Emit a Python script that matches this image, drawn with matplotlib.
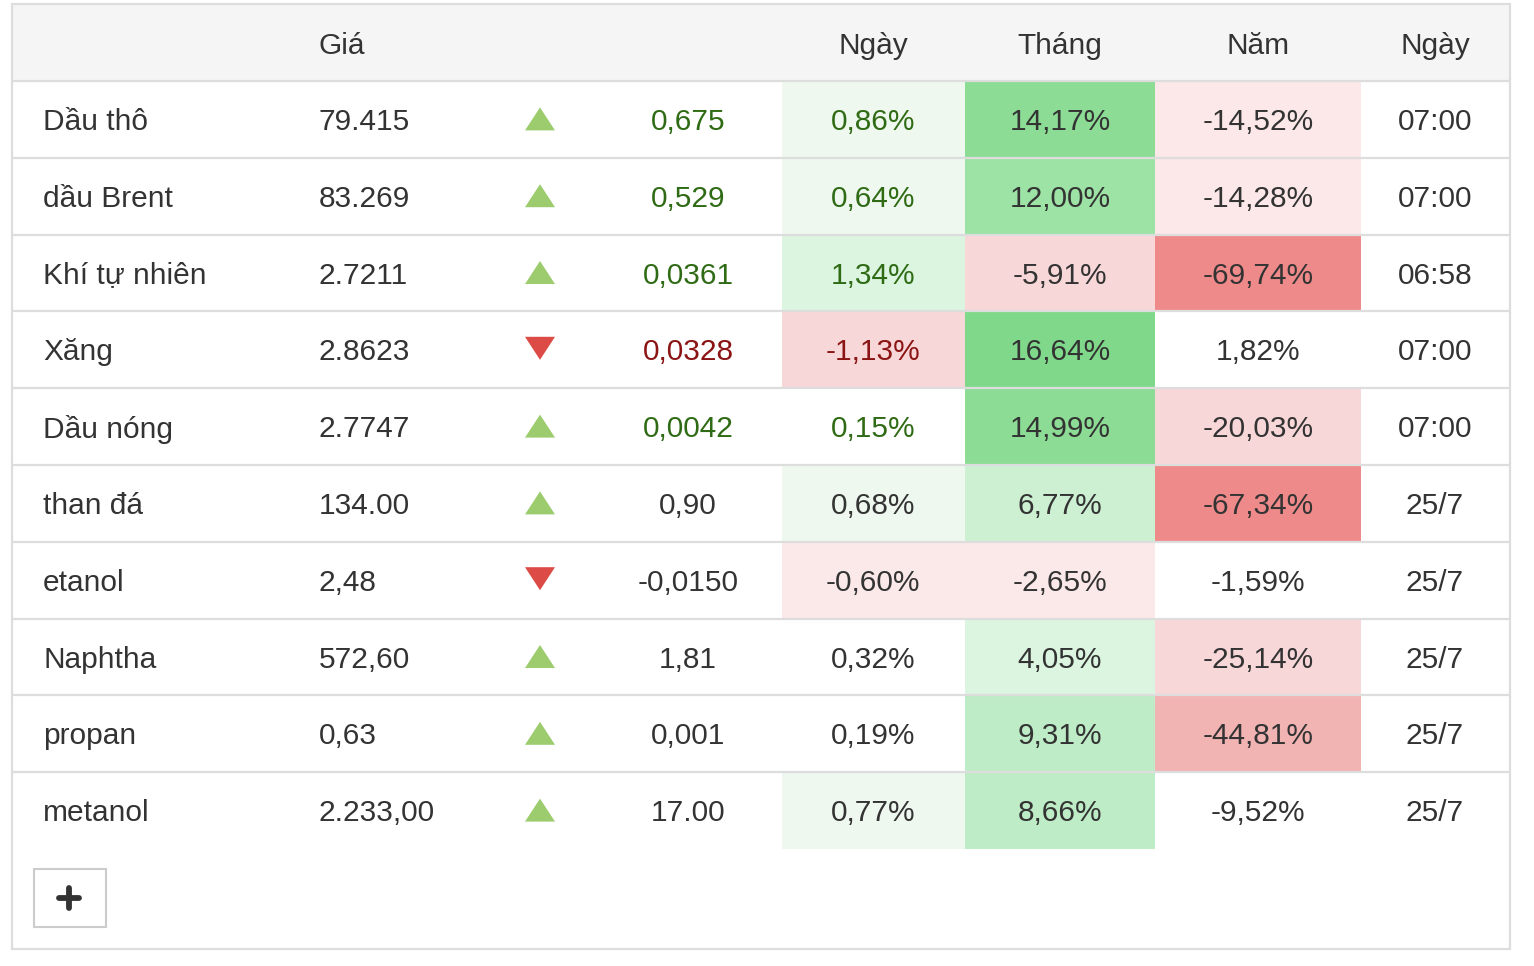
import matplotlib.pyplot as plt
from matplotlib.patches import Rectangle, Polygon

plt.rcParams['font.family'] = ['Liberation Sans', 'DejaVu Sans']

# table data
names = ['Dầu thô', 'dầu Brent', 'Khí tự nhiên', 'Xăng', 'Dầu nóng',
         'than đá', 'etanol', 'Naphtha', 'propan', 'metanol']
prices = ['79.415', '83.269', '2.7211', '2.8623', '2.7747',
          '134.00', '2,48', '572,60', '0,63', '2.233,00']
direction = [1, 1, 1, -1, 1, 1, -1, 1, 1, 1]
changes = ['0,675', '0,529', '0,0361', '0,0328', '0,0042',
           '0,90', '-0,0150', '1,81', '0,001', '17.00']
day_pct = ['0,86%', '0,64%', '1,34%', '-1,13%', '0,15%',
           '0,68%', '-0,60%', '0,32%', '0,19%', '0,77%']
month_pct = ['14,17%', '12,00%', '-5,91%', '16,64%', '14,99%',
             '6,77%', '-2,65%', '4,05%', '9,31%', '8,66%']
year_pct = ['-14,52%', '-14,28%', '-69,74%', '1,82%', '-20,03%',
            '-67,34%', '-1,59%', '-25,14%', '-44,81%', '-9,52%']
times = ['07:00', '07:00', '06:58', '07:00', '07:00',
         '25/7', '25/7', '25/7', '25/7', '25/7']
colored_text = [True, True, True, True, True, False, False, False, False, False]
headers = ['', 'Giá', '', '', 'Ngày', 'Tháng', 'Năm', 'Ngày']

# cell shading
day_bg = ['#eef8ef', '#eef8ef', '#dcf5e0', '#f8d7d9', '#ffffff',
          '#eef8ef', '#fbe9e9', '#ffffff', '#ffffff', '#eef8ef']
month_bg = ['#8cdc95', '#9de3a6', '#f8d7d9', '#80d98a', '#8cdc95',
            '#cdf0d3', '#fbe9e9', '#dcf5e0', '#bdecc6', '#bdecc6']
year_bg = ['#fce8e8', '#fce8e8', '#ef8a8a', '#ffffff', '#f8d7d9',
           '#ef8a8a', '#ffffff', '#f8d7d9', '#f2b3b3', '#ffffff']

GREEN_TXT = '#2f6b14'
RED_TXT = '#8b1414'
GRAY_TXT = '#333333'
LINE = '#dddddd'

fig = plt.figure(figsize=(15.34, 9.66), dpi=100)
ax = fig.add_axes([0, 0, 1, 1])
ax.set_xlim(0, 1534)
ax.set_ylim(966, 0)
ax.axis('off')

left, right = 12, 1510
top, head_bot = 4, 81
row_h = 76.8
fs = 21.5
dy = 2.5  # nudge text down to match baseline

# header
ax.add_patch(Rectangle((left, top), right - left, head_bot - top,
                       facecolor='#f5f5f5', edgecolor='none'))
head_x = [43, 342, 540, 688, 873, 1060, 1258, 1435]
for hx, h in zip(head_x, headers):
    if h:
        ax.text(hx, 43 + dy, h, ha='center', va='center', fontsize=fs, color=GRAY_TXT)

# column edges for the shaded cells
day_edges = (782, 965)
month_edges = (965, 1155)
year_edges = (1155, 1361)

for i in range(len(names)):
    y0 = head_bot + i * row_h
    yc = y0 + row_h / 2
    ty = yc + dy
    for (x0, x1), col in [(day_edges, day_bg[i]), (month_edges, month_bg[i]),
                          (year_edges, year_bg[i])]:
        ax.add_patch(Rectangle((x0, y0), x1 - x0, row_h, facecolor=col, edgecolor='none'))

    if colored_text[i]:
        ctxt = GREEN_TXT if direction[i] > 0 else RED_TXT
    else:
        ctxt = GRAY_TXT

    ax.text(43, ty, names[i], ha='left', va='center', fontsize=fs, color=GRAY_TXT)
    ax.text(319, ty, prices[i], ha='left', va='center', fontsize=fs, color=GRAY_TXT)

    # arrow
    if direction[i] > 0:
        tri = [(525, yc + 11), (555, yc + 11), (540, yc - 12)]
        tcol = '#9ccc6e'
    else:
        tri = [(525, yc - 13), (555, yc - 13), (540, yc + 10)]
        tcol = '#dc4b45'
    ax.add_patch(Polygon(tri, closed=True, facecolor=tcol, edgecolor='none'))

    ax.text(688, ty, changes[i], ha='center', va='center', fontsize=fs, color=ctxt)
    ax.text(873, ty, day_pct[i], ha='center', va='center', fontsize=fs, color=ctxt)
    ax.text(1060, ty, month_pct[i], ha='center', va='center', fontsize=fs, color=GRAY_TXT)
    ax.text(1258, ty, year_pct[i], ha='center', va='center', fontsize=fs, color=GRAY_TXT)
    ax.text(1435, ty, times[i], ha='center', va='center', fontsize=fs, color=GRAY_TXT)

# row separators
for i in range(len(names)):
    y = head_bot + i * row_h
    ax.plot([left, right], [y, y], color=LINE, lw=1.6, solid_capstyle='butt')

# outer border
ax.add_patch(Rectangle((left, top), right - left, 949 - top,
                       facecolor='none', edgecolor=LINE, lw=1.6))

# plus button
ax.add_patch(Rectangle((34, 869), 72, 58, facecolor='white', edgecolor='#cccccc', lw=1.5))
ax.plot([59, 79], [898, 898], color='#333333', lw=4.2, solid_capstyle='round')
ax.plot([69, 69], [888, 908], color='#333333', lw=4.2, solid_capstyle='round')

fig.savefig('out.png', dpi=100, facecolor='white')
